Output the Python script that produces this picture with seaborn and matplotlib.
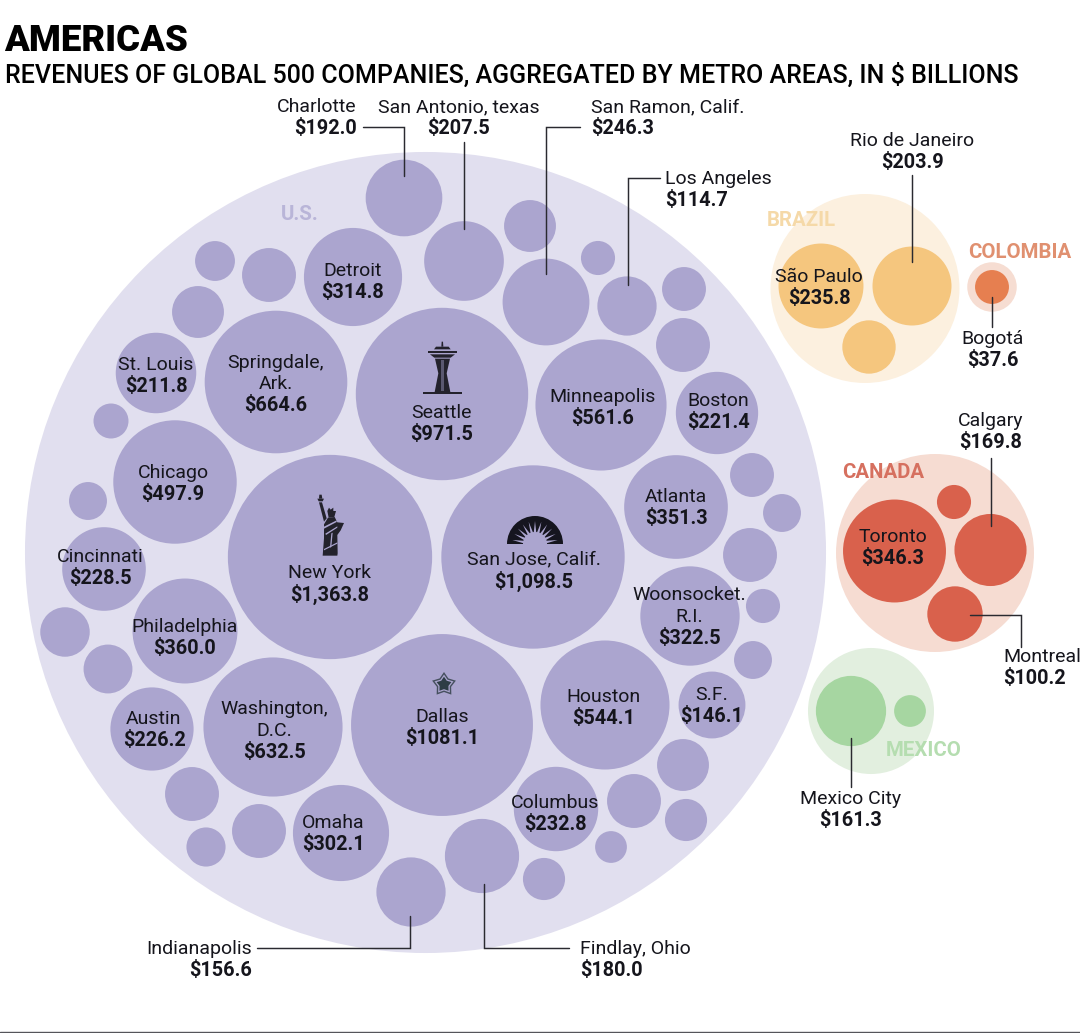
#!/usr/bin/env python3

import numpy as np
import pandas as pd
import seaborn as sns
import matplotlib.pyplot as plt
from matplotlib.patches import Wedge, Polygon

# =====================
# 1. Data (x, y = bubble centre on the 1080x1033 canvas)
# =====================
us_values = [1363.8, 1098.5, 1081.1, 971.5, 664.6, 632.5, 561.6, 544.1, 497.9, 360.0,
             351.3, 322.5, 314.8, 302.1, 246.3, 232.8, 228.5, 226.2, 221.4, 211.8,
             207.5, 192.0, 180.0, 156.6, 146.1, 114.7,
             88, 38, 63, 95, 52, 95, 88, 40, 47, 63, 47, 95,
             38, 47, 80, 78, 88, 95, 58, 33, 58, 95, 95, 50]
us_x = [330, 533, 442, 442, 276, 273, 601, 605, 175, 185,
        676, 690, 353, 341, 546, 556, 104, 152, 717, 156,
        464, 404, 482, 411, 712, 627,
        530, 598, 684, 683, 215, 269, 198, 111, 88, 752, 782, 750,
        763, 753, 65, 108, 683, 634, 686, 611, 544, 192, 259, 206]
us_y = [557, 557, 725, 394, 382, 727, 405, 705, 482, 631,
        507, 616, 277, 833, 302, 809, 569, 729, 413, 373,
        261, 198, 856, 892, 705, 306,
        226, 258, 289, 345, 261, 275, 312, 421, 501, 475, 513, 555,
        606, 660, 632, 669, 765, 801, 820, 847, 879, 794, 831, 847]

brazil_values = [235.8, 203.9, 93]
brazil_x = [821, 912, 869]
brazil_y = [286, 286, 347]

colombia_values = [37.6]
colombia_x = [992]
colombia_y = [287]

canada_values = [346.3, 169.8, 100.2, 38]
canada_x = [894.5, 990.5, 955, 954]
canada_y = [551, 550, 614, 502]

mexico_values = [161.3, 33]
mexico_x = [851, 910]
mexico_y = [711, 711]

# enclosing circles, given in the same area units as the bubbles
group_names = ["U.S.", "Brazil", "Colombia", "Canada", "Mexico"]
group_area = [20970, 1167, 80, 1281, 519]
group_x = [425.5, 865, 992, 935, 871]
group_y = [552.5, 288.5, 287, 553, 711]

bubble_colors = {"U.S.": "#ABA5CF", "Brazil": "#F5C67E", "Colombia": "#E67F50",
                 "Canada": "#D9614C", "Mexico": "#A6D6A1"}
group_colors = {"U.S.": "#E1DFEF", "Brazil": "#FCF0DF", "Colombia": "#F6DDD2",
                "Canada": "#F6DCD2", "Mexico": "#E2EFDF"}

# name lines, value text, x, y of the first line, alignment
labels = [
    (["Charlotte"], "$192.0", 357, 105.5, "right"),
    (["San Antonio, texas"], "$207.5", 459, 105.5, "center"),
    (["San Ramon, Calif."], "$246.3", 591, 105.5, "left"),
    (["Los Angeles"], "$114.7", 665, 177.5, "left"),
    (["Rio de Janeiro"], "$203.9", 912, 139.5, "center"),
    (["São Paulo"], "$235.8", 819, 274.5, "center"),
    (["Bogotá"], "$37.6", 993, 337.5, "center"),
    (["Calgary"], "$169.8", 991, 419.5, "center"),
    (["Toronto"], "$346.3", 893, 535.5, "center"),
    (["Montreal"], "$100.2", 1003, 655.5, "left"),
    (["Mexico City"], "$161.3", 851, 797.5, "center"),
    (["Indianapolis"], "$156.6", 252, 946.5, "right"),
    (["Findlay, Ohio"], "$180.0", 580, 947.5, "left"),
    (["Detroit"], "$314.8", 353, 268.5, "center"),
    (["Seattle"], "$971.5", 442, 411.5, "center"),
    (["Springdale,", "Ark."], "$664.6", 276, 360.5, "center"),
    (["St. Louis"], "$211.8", 156, 362.5, "center"),
    (["Minneapolis"], "$561.6", 603, 395.5, "center"),
    (["Boston"], "$221.4", 718, 398.5, "center"),
    (["Chicago"], "$497.9", 173, 471.5, "center"),
    (["Atlanta"], "$351.3", 676, 494.5, "center"),
    (["New York"], "$1,363.8", 330, 570.5, "center"),
    (["San Jose, Calif."], "$1,098.5", 534, 557.5, "center"),
    (["Cincinnati"], "$228.5", 100, 555.5, "center"),
    (["Woonsocket.", "R.I."], "$322.5", 689, 593.5, "center"),
    (["Philadelphia"], "$360.0", 185, 624.5, "center"),
    (["Houston"], "$544.1", 604, 695.5, "center"),
    (["S.F."], "$146.1", 712, 693.5, "center"),
    (["Austin"], "$226.2", 154, 717.5, "center"),
    (["Washington,", "D.C."], "$632.5", 274, 707.5, "center"),
    (["Dallas"], "$1081.1", 442, 715.5, "center"),
    (["Columbus"], "$232.8", 555, 801.5, "center"),
    (["Omaha"], "$302.1", 333, 820.5, "center"),
]

# country name, x, y, colour
country_labels = [
    ("U.S.", 300, 213, "#B9B5D8"),
    ("BRAZIL", 801, 218, "#F5D9A8"),
    ("COLOMBIA", 1020, 251, "#E09070"),
    ("CANADA", 883, 470, "#D6705F"),
    ("MEXICO", 924, 748, "#B5DDB0"),
]

leaders = [
    ([363, 404, 404], [127, 127, 176]),
    ([464, 464], [142, 229]),
    ([580, 546, 546], [127, 127, 274]),
    ([660, 628, 628], [178, 178, 285]),
    ([912, 912], [175, 262]),
    ([992, 992], [297, 327]),
    ([991, 991], [458, 526]),
    ([970, 1021, 1021], [615, 615, 647]),
    ([851, 851], [738, 787]),
    ([257, 410, 410], [948, 948, 916]),
    ([484, 484, 569], [884, 948, 948]),
]

# =====================
# 2. Tables for seaborn
# =====================
bubbles = pd.concat([
    pd.DataFrame({"group": "U.S.", "x": us_x, "y": us_y, "value": us_values}),
    pd.DataFrame({"group": "Brazil", "x": brazil_x, "y": brazil_y, "value": brazil_values}),
    pd.DataFrame({"group": "Colombia", "x": colombia_x, "y": colombia_y, "value": colombia_values}),
    pd.DataFrame({"group": "Canada", "x": canada_x, "y": canada_y, "value": canada_values}),
    pd.DataFrame({"group": "Mexico", "x": mexico_x, "y": mexico_y, "value": mexico_values}),
], ignore_index=True)
groups = pd.DataFrame({"group": group_names, "x": group_x, "y": group_y, "value": group_area})

# =====================
# 3. Figure
# =====================
sns.set_theme(style="white")
plt.rcParams["font.family"] = ["Roboto", "DejaVu Sans"]

fig = plt.figure(figsize=(10.8, 10.33), dpi=100)
ax = fig.add_axes([0, 0, 1, 1])

# one value unit = 7.65 square pixels of r^2, scatter size is in points^2
AREA = 7.65 * (2 * 0.72) ** 2
SIZE_MAX = 21000
for df, colors, z in [(groups, group_colors, 1), (bubbles, bubble_colors, 2)]:
    sns.scatterplot(data=df, x="x", y="y", hue="group", palette=colors, size="value",
                    sizes=(AREA, AREA * SIZE_MAX), size_norm=(1, SIZE_MAX),
                    linewidth=0, alpha=1, legend=False, zorder=z, ax=ax)

ax.set_xlim(0, 1080)
ax.set_ylim(1033, 0)
ax.axis("off")

for xs, ys in leaders:
    ax.plot(xs, ys, color="#2A2A30", lw=1.05, zorder=3, solid_joinstyle="miter")

# =====================
# 4. Icons
# =====================
DARK = "#23222C"
LAVENDER = "#ABA5CF"


def poly(points, x0=0, y0=0, scale=1.0, color=DARK):
    pts = [(x0 + px * scale, y0 + py * scale) for px, py in points]
    ax.add_patch(Polygon(pts, closed=True, fc=color, ec="none", zorder=4))


# Space Needle
sx, sy, sk = 340, 330, 1 / 3
poly([(305, 35), (309, 35), (310, 50), (304, 50)], sx, sy, sk)
poly([(288, 50), (326, 50), (332, 58), (282, 58)], sx, sy, sk)
poly([(265, 62), (350, 62), (350, 70), (265, 70)], sx, sy, sk)
poly([(270, 73), (345, 73), (332, 83), (283, 83)], sx, sy, sk)
poly([(285, 86), (330, 86), (320, 130), (331, 186), (284, 186), (295, 130)], sx, sy, sk)
poly([(304, 90), (311, 90), (311, 184), (304, 184)], sx, sy, sk, color="#5A5870")
poly([(250, 186), (365, 186), (365, 191), (250, 191)], sx, sy, sk)

# Statue of Liberty
lx, ly, lk = 300, 485, 1 / 3
poly([(52, 41), (72, 41), (68, 49), (56, 49)], lx, ly, lk)
poly([(58, 29), (65, 29), (67, 41), (57, 41)], lx, ly, lk)
poly([(57, 52), (66, 52), (80, 100), (72, 110)], lx, ly, lk)
poly([(82, 78), (87, 68), (92, 74), (100, 68), (100, 78), (108, 78), (103, 96), (86, 98)], lx, ly, lk)
poly([(72, 118), (84, 98), (104, 96), (112, 112), (132, 114), (122, 136), (112, 150),
      (113, 205), (112, 212), (68, 212), (72, 160)], lx, ly, lk)
poly([(70, 126), (110, 106), (110, 111), (72, 131)], lx, ly, lk, color=LAVENDER)
poly([(76, 146), (112, 124), (112, 128), (78, 150)], lx, ly, lk, color=LAVENDER)
poly([(94, 145), (98, 143), (94, 186), (90, 188)], lx, ly, lk, color=LAVENDER)
poly([(72, 192), (112, 172), (112, 176), (72, 196)], lx, ly, lk, color=LAVENDER)

# Sunburst
ax.add_patch(Wedge((535, 544), 28, 180, 360, fc="#15151F", ec="none", zorder=4))
for deg in np.linspace(190, 350, 11):
    a = np.radians(deg)
    da = np.radians(7)
    tip = (535 + 23 * np.cos(a), 544 + 23 * np.sin(a))
    left = (535 + 11 * np.cos(a - da), 544 + 11 * np.sin(a - da))
    right = (535 + 11 * np.cos(a + da), 544 + 11 * np.sin(a + da))
    poly([left, tip, right], color=LAVENDER)
ax.add_patch(Wedge((535, 544), 12, 180, 360, fc=LAVENDER, ec="none", zorder=4))

# Star
angles = np.radians(np.arange(10) * 36 - 90)
for radius, color in [(1.0, "#46505F"), (0.8, LAVENDER), (0.62, "#2E3D46")]:
    radii = np.where(np.arange(10) % 2 == 0, 12.5 * radius, 7.5 * radius)
    poly(list(zip(444 + radii * np.cos(angles), 684.5 + radii * np.sin(angles))), color=color)

# =====================
# 5. Text
# =====================
INK = "#15151C"
LINE_STEP = 21.5

for lines, value, x, y, ha in labels:
    for i, line in enumerate(lines):
        ax.text(x, y + i * LINE_STEP, line, ha=ha, va="center_baseline", fontsize=14.0,
                color=INK, zorder=5)
    ax.text(x, y + len(lines) * LINE_STEP, value, ha=ha, va="center_baseline", fontsize=14.3,
            fontweight="bold", color=INK, zorder=5)

for text, x, y, color in country_labels:
    ax.text(x, y, text, ha="center", va="center_baseline", fontsize=14.7, fontweight="bold",
            color=color, zorder=5)

ax.text(4, 37, "AMERICAS", ha="left", va="center_baseline", fontsize=26.3, fontweight="black",
        color="#000000")
ax.text(5, 73, "REVENUES OF GLOBAL 500 COMPANIES, AGGREGATED BY METRO AREAS, IN $ BILLIONS",
        ha="left", va="center_baseline", fontsize=18, fontweight="medium", color="#000000")

ax.plot([0, 1080], [1032, 1032], color="#55555A", lw=1.0, zorder=3)

fig.savefig("out.png", dpi=100, facecolor="white")
